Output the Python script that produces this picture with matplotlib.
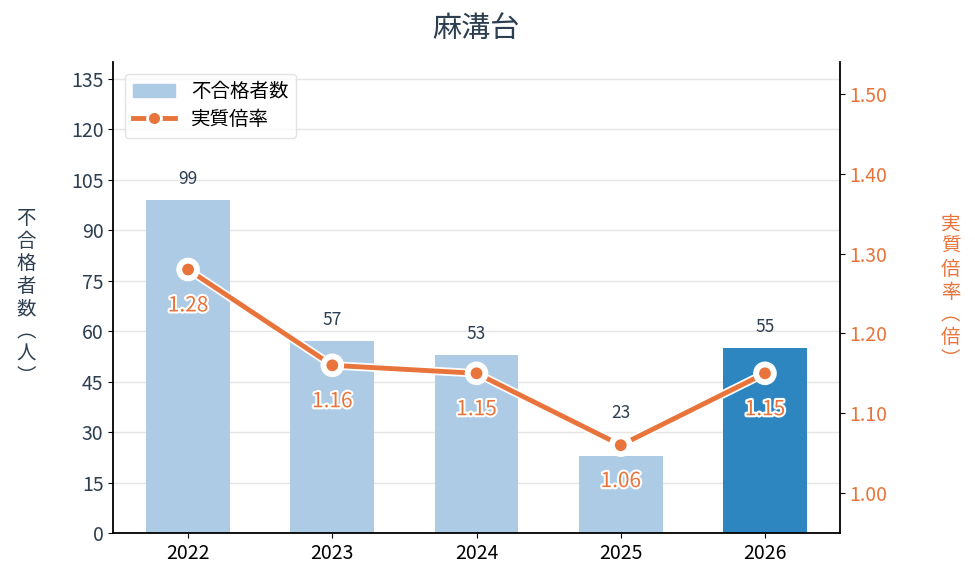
import matplotlib.pyplot as plt
import matplotlib.patheffects as pe
from matplotlib.lines import Line2D
from matplotlib.patches import Patch

plt.rcParams['font.family'] = ['Noto Sans CJK JP', 'DejaVu Sans']

years = ['2022', '2023', '2024', '2025', '2026']
failed = [99, 57, 53, 23, 55]
ratio = [1.28, 1.16, 1.15, 1.06, 1.15]

TEXT = '#2c3e50'
ORANGE = '#e8743b'
LIGHT = '#aecbe6'
DARK = '#2e86c1'

Y1 = (0, 140)
Y2 = (0.95, 1.54)

fig = plt.figure(figsize=(9.75, 5.84), dpi=100)
ax = fig.add_axes([0.116, 0.0873, 0.7455, 0.8067])
x = list(range(len(years)))
colors = [LIGHT] * (len(years) - 1) + [DARK]
ax.bar(x, failed, width=0.58, color=colors, zorder=2)
for xi, v, r in zip(x, failed, ratio):
    # move the count label up if the ratio line runs through it
    line_y = (r - Y2[0]) / (Y2[1] - Y2[0]) * (Y1[1] - Y1[0])
    ly = v + 6.2
    if abs(ly - line_y) < 8:
        ly = v + 12.7
    ax.text(xi, ly, str(v), ha='center', va='center', fontsize=12.5, color=TEXT)

ax.set_xlim(-0.52, 4.52)
ax.set_ylim(*Y1)
ax.set_yticks(range(0, 136, 15))
ax.set_xticks(x)
ax.set_xticklabels(years, fontsize=14, color='black')
ax.tick_params(axis='y', labelsize=14, labelcolor=TEXT)
ax.grid(axis='y', color='#e5e5e5', linewidth=1, zorder=0)
ax.set_axisbelow(True)
ax.spines['top'].set_visible(False)
ax.spines['right'].set_visible(False)
for s in ['left', 'bottom']:
    ax.spines[s].set_linewidth(1.3)

ax2 = ax.twinx()
ax2.plot(x, ratio, color=ORANGE, linewidth=3.5, marker='o', markersize=11,
         markerfacecolor=ORANGE, markeredgecolor='white', markeredgewidth=2.5,
         zorder=3, path_effects=[pe.Stroke(linewidth=6, foreground='white'), pe.Normal()])
for xi, r in zip(x, ratio):
    ax2.text(xi, r - 0.045, f'{r:.2f}', ha='center', va='center', fontsize=15,
             color=ORANGE, path_effects=[pe.withStroke(linewidth=3, foreground='white')])
ax2.set_ylim(*Y2)
ax2.set_yticks([1.0, 1.1, 1.2, 1.3, 1.4, 1.5])
ax2.set_yticklabels([f'{t:.2f}' for t in [1.0, 1.1, 1.2, 1.3, 1.4, 1.5]])
ax2.tick_params(axis='y', labelsize=14, labelcolor=ORANGE)
ax2.spines['top'].set_visible(False)
ax2.spines['left'].set_visible(False)
ax2.spines['bottom'].set_visible(False)
ax2.spines['right'].set_linewidth(1.3)

fig.text(0.027, 0.49, '\n'.join('不合格者数︵人︶'), ha='center', va='center',
         fontsize=14, color=TEXT, linespacing=1.1)
fig.text(0.975, 0.5, '\n'.join('実質倍率︵倍︶'), ha='center', va='center',
         fontsize=14, color=ORANGE, linespacing=1.1)
fig.text(0.488, 0.951, '麻溝台', ha='center', va='center', fontsize=21, color=TEXT)

handles = [Patch(color=LIGHT),
           Line2D([0], [0], color=ORANGE, linewidth=3.5, marker='o', markersize=10,
                  markeredgecolor='white', markeredgewidth=2)]
ax2.legend(handles, ['不合格者数', '実質倍率'], loc='upper left', fontsize=14,
           frameon=True, edgecolor='#dddddd', fancybox=True, handlelength=2.2,
           labelspacing=0.35, borderaxespad=0.6)

fig.savefig('out.png', dpi=100)
